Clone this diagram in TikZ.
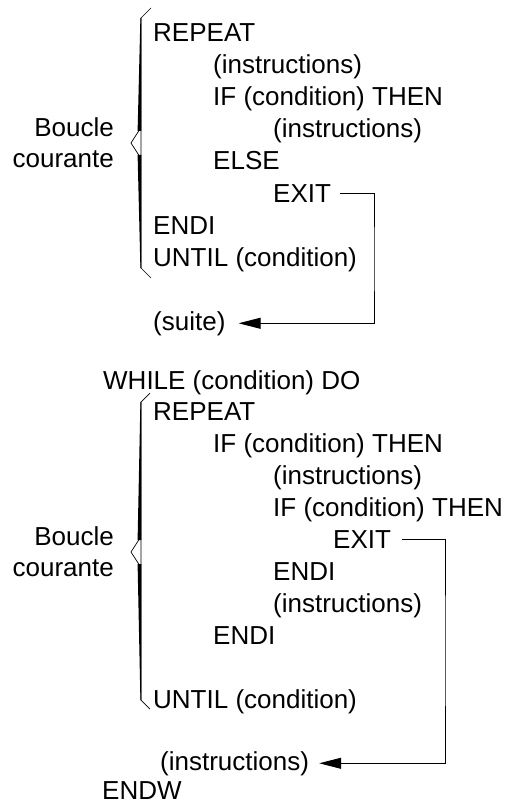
\documentclass[tikz,border=0pt]{standalone}
\usepackage{fontspec}
\setmainfont{Liberation Sans}
\usetikzlibrary{arrows.meta}

\begin{document}
\begin{tikzpicture}[x=1pt, y=-1pt, >={Triangle[length=22pt, width=11pt]},
	instr/.style={anchor=base west, inner sep=0pt, font=\fontsize{26}{31}\selectfont},
	boucle/.style={anchor=east, align=right, inner sep=0pt, font=\fontsize{26}{31}\selectfont},
	accolade/.style={line width=0.7pt},
	retour/.style={->, line width=0.9pt}]

	\useasboundingbox (0,0) rectangle (509,805);

	% premiere boucle
	\node[instr] (rep1) at (153,42) {REPEAT};
	\node[instr] (ins1) at (213,74) {(instructions)};
	\node[instr] (if1) at (213,106) {IF (condition) THEN};
	\node[instr] (ins2) at (273,138) {(instructions)};
	\node[instr] (else1) at (213,170) {ELSE};
	\node[instr] (exit1) at (273,202) {EXIT};
	\node[instr] (endi1) at (153,234) {ENDI};
	\node[instr] (until1) at (153,266) {UNTIL (condition)};
	\node[instr] (suite) at (153,330) {(suite)};
	\node[boucle] (bc1) at (114,143) {Boucle\\courante};

	\draw[accolade] (151,8) -- (141,18) -- (141,268) -- (151,278);
	\draw[accolade] (140,129) -- (131,143) -- (140,157);
	\fill (140.4,18) -- (141.4,18) -- (141.4,131) -- (137.6,131) -- cycle;
	\fill (140.4,268) -- (141.4,268) -- (141.4,155) -- (137.6,155) -- cycle;

	\coordinate (k1) at (374,260);
	\draw[retour] ([xshift=9pt]exit1.east) -| (k1) |- ([xshift=13pt]suite.east);

	% seconde boucle
	\node[instr] (while) at (103,389) {WHILE (condition) DO};
	\node[instr] (rep2) at (153,420) {REPEAT};
	\node[instr] (if2) at (213,452) {IF (condition) THEN};
	\node[instr] (ins3) at (273,484) {(instructions)};
	\node[instr] (if3) at (273,516) {IF (condition) THEN};
	\node[instr] (exit2) at (333,548) {EXIT};
	\node[instr] (endi2) at (273,580) {ENDI};
	\node[instr] (ins4) at (273,612) {(instructions)};
	\node[instr] (endi3) at (213,644) {ENDI};
	\node[instr] (until2) at (153,708) {UNTIL (condition)};
	\node[instr] (ins5) at (160,770) {(instructions)};
	\node[instr] (endw) at (102,799) {ENDW};
	\node[boucle] (bc2) at (114,552) {Boucle\\courante};

	\draw[accolade] (150,393) -- (141,402) -- (141,700) -- (150,709);
	\draw[accolade] (140,538) -- (131,552) -- (140,566);
	\fill (140.4,402) -- (141.4,402) -- (141.4,540) -- (137.6,540) -- cycle;
	\fill (140.4,700) -- (141.4,700) -- (141.4,564) -- (137.6,564) -- cycle;

	\coordinate (k2) at (445,650);
	\draw[retour] ([xshift=11pt]exit2.east) -| (k2) |- ([xshift=10pt]ins5.east);

\end{tikzpicture}
\end{document}
